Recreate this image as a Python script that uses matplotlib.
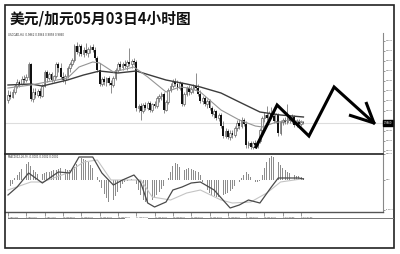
import numpy as np
import matplotlib
matplotlib.use("Agg")
import matplotlib.pyplot as plt
from matplotlib.lines import Line2D
from matplotlib.patches import Rectangle
import matplotlib.transforms as mtransforms

plt.rcParams['font.family'] = ['Noto Sans CJK SC', 'DejaVu Sans']

# USD/CAD H4 candles, prices in pips (x 1e-4)
open_p = [9906, 9916, 9912, 9922, 9934, 9942, 9938, 9948, 9946, 9952,
          9978, 9908, 9922, 9916, 9924, 9914, 9934, 9962, 9950, 9958,
          9946, 9954, 9978, 9970, 9952, 9946, 9954, 9970, 9978, 9986,
          10014, 10002, 10014, 9998, 10006, 10000, 10008, 10012, 10006, 9990,
          9966, 9938, 9948, 9942, 9950, 9940, 9936, 9950, 9966, 9978,
          9972, 9978, 9974, 9982, 9978, 9984, 9982, 9890, 9894, 9884,
          9896, 9890, 9900, 9886, 9898, 9894, 9910, 9914, 9918, 9886,
          9902, 9926, 9934, 9942, 9938, 9930, 9940, 9898, 9918, 9930,
          9922, 9928, 9934, 9930, 9918, 9904, 9910, 9898, 9904, 9890,
          9878, 9884, 9870, 9876, 9854, 9834, 9844, 9832, 9840, 9836,
          9850, 9860, 9854, 9866, 9858, 9816, 9820, 9812, 9820, 9816,
          9824, 9846, 9870, 9876, 9870, 9880, 9874, 9864, 9878, 9840,
          9862, 9866, 9862, 9870, 9864, 9872, 9856, 9864, 9858, 9862]
high_p = [9926, 9924, 9928, 9938, 9948, 9946, 9954, 9956, 9958, 9982,
          9980, 9930, 9930, 9928, 9930, 9938, 9966, 9966, 9962, 9962,
          9956, 9982, 9982, 9980, 9962, 9958, 9974, 9982, 9990, 10018,
          10022, 10018, 10018, 10012, 10020, 10012, 10016, 10018, 10012, 9994,
          9980, 9952, 9954, 9952, 9954, 9946, 9954, 9970, 9982, 9984,
          9982, 9986, 9986, 10010, 9988, 9990, 9986, 9898, 9900, 9900,
          9902, 9904, 9904, 9900, 9904, 9914, 9918, 9922, 9922, 9906,
          9930, 9940, 9948, 9950, 9946, 9944, 9942, 9922, 9934, 9936,
          9934, 9938, 9960, 9938, 9926, 9914, 9914, 9908, 9908, 9894,
          9888, 9886, 9880, 9880, 9864, 9850, 9848, 9846, 9846, 9854,
          9866, 9868, 9872, 9870, 9864, 9824, 9824, 9824, 9826, 9826,
          9850, 9874, 9882, 9894, 9884, 9892, 9886, 9880, 9880, 9866,
          9870, 9872, 9898, 9874, 9878, 9876, 9868, 9868, 9866, 9864]
low_p = [9900, 9908, 9910, 9918, 9930, 9932, 9936, 9940, 9942, 9946,
         9904, 9902, 9910, 9912, 9910, 9912, 9932, 9942, 9946, 9942,
         9942, 9950, 9962, 9948, 9942, 9938, 9950, 9962, 9974, 9982,
         9998, 9994, 9994, 9992, 9996, 9992, 10000, 10002, 9986, 9962,
         9934, 9934, 9936, 9934, 9936, 9920, 9932, 9946, 9962, 9966,
         9966, 9970, 9966, 9974, 9970, 9976, 9884, 9882, 9866, 9880,
         9886, 9886, 9882, 9882, 9890, 9890, 9902, 9906, 9880, 9884,
         9898, 9922, 9930, 9934, 9926, 9926, 9894, 9894, 9914, 9916,
         9918, 9920, 9926, 9914, 9900, 9898, 9894, 9890, 9886, 9874,
         9870, 9866, 9864, 9850, 9830, 9830, 9828, 9826, 9830, 9832,
         9844, 9848, 9850, 9854, 9810, 9810, 9808, 9808, 9812, 9810,
         9820, 9842, 9862, 9866, 9864, 9870, 9860, 9860, 9834, 9836,
         9856, 9858, 9858, 9860, 9860, 9852, 9852, 9856, 9854, 9858]
close_p = [9916, 9912, 9922, 9934, 9942, 9938, 9948, 9946, 9952, 9978,
           9908, 9922, 9916, 9924, 9914, 9934, 9962, 9950, 9958, 9946,
           9954, 9978, 9970, 9952, 9946, 9954, 9970, 9978, 9986, 10014,
           10002, 10014, 9998, 10006, 10000, 10008, 10012, 10006, 9990, 9966,
           9938, 9948, 9942, 9950, 9940, 9936, 9950, 9966, 9978, 9972,
           9978, 9974, 9982, 9978, 9984, 9982, 9890, 9894, 9884, 9896,
           9890, 9900, 9886, 9898, 9894, 9910, 9914, 9918, 9886, 9902,
           9926, 9934, 9942, 9938, 9930, 9940, 9898, 9918, 9930, 9922,
           9928, 9934, 9930, 9918, 9904, 9910, 9898, 9904, 9890, 9878,
           9884, 9870, 9876, 9854, 9834, 9844, 9832, 9840, 9836, 9850,
           9860, 9854, 9866, 9858, 9816, 9820, 9812, 9820, 9816, 9824,
           9846, 9870, 9876, 9870, 9880, 9874, 9864, 9878, 9840, 9862,
           9866, 9862, 9870, 9864, 9872, 9856, 9864, 9858, 9862, 9860]

# moving averages (bar index, pips)
slow_idx = [0, 10, 15, 26, 33, 40, 48, 56, 69, 78, 84, 93, 101, 110, 119, 129]
slow_val = [9936, 9938, 9934, 9946, 9956, 9964, 9960, 9964, 9946, 9938,
            9932, 9920, 9902, 9882, 9876, 9872]
fast_idx = [0, 10, 26, 31, 37, 40, 46, 55, 61, 69, 75, 79, 84, 93, 101,
            108, 111, 116, 123, 129]
fast_val = [9930, 9936, 9950, 9972, 9982, 9980, 9962, 9972, 9952, 9922,
            9932, 9930, 9922, 9886, 9866, 9854, 9852, 9860, 9866, 9862]

# MACD(12,26,9), values in 1e-4
hist_pts = [-5, -6, -4,
            2, 5, 8, 11, 14, 16, 18,
            14, 10, 8, 6, 5, 6,
            7, 8, 8, 9, 10, 10, 11, 12, 12, 11,
            10, 10, 11, 13, 16,
            20, 22, 21, 20, 18, 15, 12, 8,
            3, -2, -8,
            -14, -18, -22, -22, -20, -16, -12, -8,
            -4, -2, -1, 0, 1, 0,
            -4, -10, -15, -20, -22, -23, -22, -20, -18, -15, -12, -9, -6, -3,
            2, 8, 14, 17,
            16, 13, 10, 10, 11, 12, 11, 10, 9, 8, 5,
            -2, -6, -10, -13, -15, -16, -17, -17, -16, -15, -14, -13, -11, -9, -6, -4, -2,
            2, 5, 8, 6, 3,
            -1, -2, -2, -1,
            5, 12, 18, 22, 24, 23, 21, 18, 15, 12, 10, 8, 7, 6, 5,
            4, 4, 3, 2]
macd_idx = [0, 4, 9, 15, 22, 27, 31, 37, 41, 46, 50, 55, 58, 61, 64, 69, 72,
            76, 80, 84, 90, 97, 101, 105, 110, 115, 118, 127, 129]
macd_val = [-15, -7, 7, -3, 8, 7, 23, 23, 7, -5, 0, 5, -3, -23, -27, -22, -10,
            -7, -3, -2, -10, -28, -25, -20, -23, -7, 2, 2, 1]
sig_idx = [0, 10, 15, 26, 33, 39, 45, 52, 58, 63, 71, 78, 84, 93, 98, 106,
           113, 119, 128]
sig_val = [-10, -2, -2, 7, 18, 20, 0, 0, 0, -17, -20, -13, -10, -20, -23,
           -22, -13, -2, 1]

time_labels = ["4 Apr 2012", "5 Apr 08:00", "6 Apr 16:00", "10 Apr 00:00",
               "11 Apr 08:00", "12 Apr 16:00", "16 Apr 00:00", "17 Apr 08:00",
               "18 Apr 16:00", "20 Apr 00:00", "23 Apr 08:00", "24 Apr 16:00",
               "26 Apr 00:00", "27 Apr 08:00", "30 Apr 16:00", "2 May 00:00",
               "3 May 08:00"]
price_ticks = [1.0025, 1.0005, 0.9985, 0.9965, 0.9945, 0.9925, 0.9905,
               0.9885, 0.9845, 0.9825, 0.9805]
macd_ticks = [0.0026, 0.0, -0.0030]
macd_tick_labels = ["0.0026", "0.00", "-0.0030"]
bid = 0.9860

# hand-drawn forecast zigzag (bar index, pips)
zig_idx = [108.3, 117.5, 131.4, 142.4, 159.8]
zig_val = [9812, 9896, 9834, 9932, 9860]
head_idx = [148.9, 156.3]
head_val = [9876, 9902]

title = "美元/加元05月03日4小时图"

W, H = 400, 254
fig = plt.figure(figsize=(W / 100, H / 100), dpi=100)
fig.patch.set_facecolor("white")


def fbox(x0, y0, x1, y1):
    return [x0 / W, 1 - y1 / H, (x1 - x0) / W, (y1 - y0) / H]


o = np.array(open_p) / 1e4
h = np.array(high_p) / 1e4
l = np.array(low_p) / 1e4
c = np.array(close_p) / 1e4
n = len(c)
x = np.arange(n)
xlim = (-1.31, 163.75)

# price panel
ax = fig.add_axes(fbox(5, 33, 383, 152))
ax.set_xlim(*xlim)
ax.set_ylim(0.9802, 1.0040)
ax.axhline(bid, color="#dddddd", lw=0.8, zorder=0)
ax.vlines(x, l, h, color="#6e6e6e", lw=0.55, zorder=1)
up = c >= o
ax.bar(x[up], (c - o)[up], bottom=o[up], width=0.75, facecolor="#f4f4f4",
       edgecolor="#555555", lw=0.45, zorder=2)
ax.bar(x[~up], (o - c)[~up], bottom=c[~up], width=0.8, color="#111111",
       lw=0, zorder=2)
ax.plot(slow_idx, np.array(slow_val) / 1e4, color="#3c3c3c", lw=1.0, zorder=3)
ax.plot(fast_idx, np.array(fast_val) / 1e4, color="#959595", lw=0.8, zorder=3)
ax.plot(zig_idx, np.array(zig_val) / 1e4, color="black", lw=2.2,
        solid_joinstyle="miter", zorder=5, clip_on=False)
for hi, hv in zip(head_idx, head_val):
    ax.plot([hi, zig_idx[-1]], [hv / 1e4, zig_val[-1] / 1e4], color="black",
            lw=2.2, solid_capstyle="butt", zorder=5, clip_on=False)
for s in ("top", "left", "bottom"):
    ax.spines[s].set_visible(False)
ax.spines["right"].set_color("#888888")
ax.spines["right"].set_linewidth(0.8)
ax.set_xticks([])
ax.yaxis.tick_right()
ax.set_yticks(price_ticks)
ax.set_yticklabels([f"{v:.4f}" for v in price_ticks])
ax.tick_params(axis="y", labelsize=1.7, length=1.5, width=0.4, pad=0.8,
               colors="#444444")
trans = mtransforms.blended_transform_factory(ax.transAxes, ax.transData)
ax.text(1.003, bid, f"{bid:.4f}", transform=trans, fontsize=1.8,
        color="white", va="center", ha="left", family="DejaVu Sans",
        bbox=dict(boxstyle="square,pad=0.35", fc="black", ec="black"))

# MACD panel
ax2 = fig.add_axes(fbox(5, 154, 383, 212))
ax2.set_xlim(*xlim)
ax2.set_ylim(-0.0032, 0.0026)
ax2.bar(x, np.array(hist_pts) / 1e4, width=0.38, color="#8c8c8c", lw=0)
ax2.plot(sig_idx, np.array(sig_val) / 1e4, color="#c4c4c4", lw=0.8)
ax2.plot(macd_idx, np.array(macd_val) / 1e4, color="#4a4a4a", lw=0.9)
ax2.spines["left"].set_visible(False)
ax2.spines["top"].set_color("#333333")
ax2.spines["top"].set_linewidth(1.3)
ax2.spines["bottom"].set_color("#555555")
ax2.spines["bottom"].set_linewidth(1.0)
ax2.spines["right"].set_color("#888888")
ax2.spines["right"].set_linewidth(0.8)
ax2.yaxis.tick_right()
ax2.set_yticks(macd_ticks)
ax2.set_yticklabels(macd_tick_labels)
ax2.tick_params(axis="y", labelsize=1.7, length=1.5, width=0.4, pad=0.8,
                colors="#444444")
ax2.set_xticks(np.arange(0, 8 * len(time_labels), 8))
ax2.set_xticklabels(time_labels, ha="left")
ax2.tick_params(axis="x", labelsize=1.5, length=3, width=0.4, pad=0.6,
                colors="#444444")

# headers
fig.text(8 / W, 1 - 35.5 / H, "USDCAD,H4  0.9862 0.9864 0.9858 0.9860",
         fontsize=1.9, color="#333333", va="center", family="DejaVu Sans")
fig.text(8 / W, 1 - 157 / H, "MACD(12,26,9) -0.0001 0.0002 0.0001",
         fontsize=1.9, color="#333333", va="center", family="DejaVu Sans")
fig.text(10 / W, 1 - 19 / H, title, fontsize=10.6, fontweight="bold",
         color="#111111", va="center", ha="left")

# frame and rule under the time scale
fig.add_artist(Rectangle((5 / W, 6 / H), 389 / W, 243 / H, fill=False,
                         ec="#222222", lw=1.2, transform=fig.transFigure))
for x0, x1 in ((8, 124), (148, 393)):
    fig.add_artist(Line2D([x0 / W, x1 / W], [1 - 218 / H, 1 - 218 / H],
                          color="#777777", lw=0.7, transform=fig.transFigure))

fig.savefig("out.png", dpi=100)
